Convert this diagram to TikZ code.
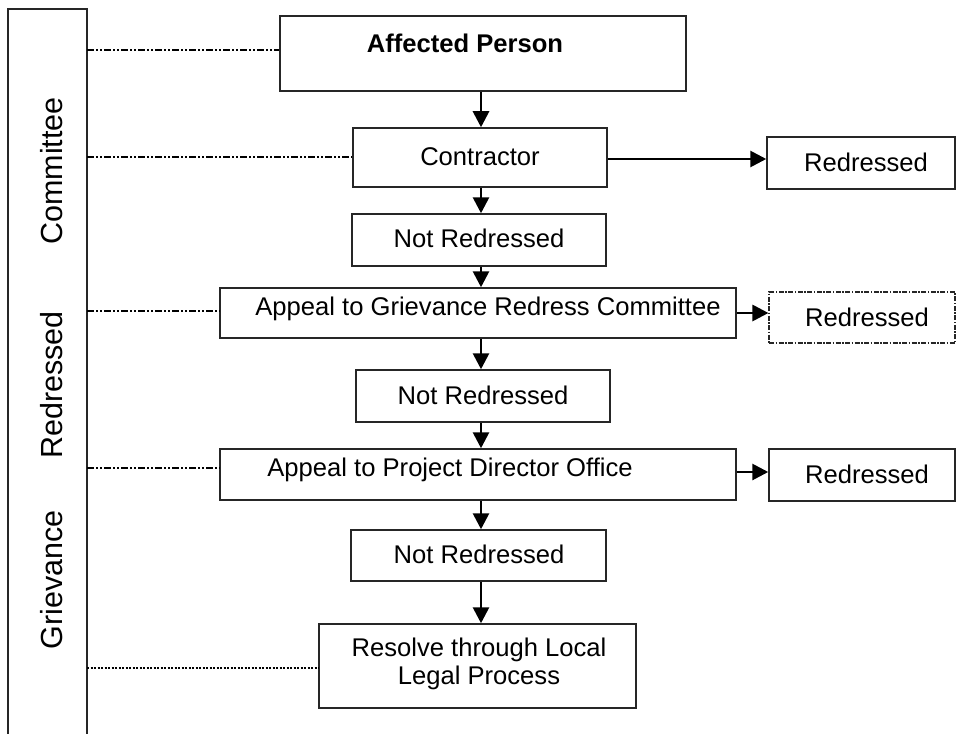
\documentclass[tikz,border=0pt]{standalone}
\usepackage{fontspec}
\setmainfont{Liberation Sans}
\usetikzlibrary{arrows.meta}
\tikzset{
  box/.style={draw=black!85, line width=1.5pt, inner sep=0pt},
  txt/.style={font=\fontsize{25.6}{28.5}\selectfont, inner sep=0pt, align=center},
  side/.style={font=\fontsize{30.5}{34}\selectfont, inner sep=0pt, rotate=90},
  flow/.style={line width=2.8pt, -{Triangle[length=16pt,width=16pt]}},
  link/.style={line width=2.4pt, dash pattern=on 7pt off 2pt on 2pt off 2pt on 2pt off 2pt},
  dotlink/.style={line width=2.4pt, dash pattern=on 2pt off 1.5pt},
}
\begin{document}
\begin{tikzpicture}[x=1pt,y=1pt]
\useasboundingbox (0,0) rectangle (957,-733);
% left bar
\draw[line width=1.5pt, black!85] (8,-740) -- (8,-9) coordinate (barTL) -- (87,-9) -- (87,-740);
\coordinate (barR) at (87,-9);
\node[side] (lc) at (52,-171) {Committee};
\node[side] (lr) at (52,-385) {Redressed};
\node[side] (lg) at (52,-580) {Grievance};

% boxes
\node[box, minimum width=406, minimum height=75] (aff) at (483,-53.5) {};
\node[txt, font=\fontsize{25.6}{30}\selectfont\bfseries] (afft) at (465,-43) {Affected Person};
\node[box, minimum width=254, minimum height=59] (con) at (480,-157.5) {};
\node[txt] (cont) at (480,-157) {Contractor};
\node[box, minimum width=188, minimum height=52] (red1) at (861,-163) {};
\node[txt] (red1t) at (866,-162) {Redressed};
\node[box, minimum width=254, minimum height=52] (nr1) at (479,-240) {};
\node[txt] (nr1t) at (479,-238) {Not Redressed};
\node[box, minimum width=516, minimum height=50] (grc) at (478,-313) {};
\node[txt] (grct) at (488,-309) {Appeal to Grievance Redress Committee};
\node[draw=black!85, line width=1.1pt, dash pattern=on 5pt off 1.5pt on 1.5pt off 1.5pt, inner sep=0pt, minimum width=186, minimum height=51] (red2) at (862,-317.5) {};
\node[txt] (red2t) at (867,-317) {Redressed};
\node[box, minimum width=254, minimum height=52] (nr2) at (483,-396) {};
\node[txt] (nr2t) at (483,-395) {Not Redressed};
\node[box, minimum width=516, minimum height=51] (pdo) at (478,-474.5) {};
\node[txt] (pdot) at (450,-470) {Appeal to Project Director Office};
\node[box, minimum width=186, minimum height=52] (red3) at (862,-475) {};
\node[txt] (red3t) at (867,-474) {Redressed};
\node[box, minimum width=255, minimum height=51] (nr3) at (478.5,-555.5) {};
\node[txt] (nr3t) at (479,-554) {Not Redressed};
\node[box, minimum width=317, minimum height=84] (res) at (477.5,-666) {};
\node[txt] (rest) at (479,-664) {Resolve through Local\\Legal Process};

% vertical flow
\draw[flow] (481,0 |- aff.south) -- (481,0 |- con.north);
\draw[flow] (481,0 |- con.south) -- (481,0 |- nr1.north);
\draw[flow] (481,0 |- nr1.south) -- (481,0 |- grc.north);
\draw[flow] (481,0 |- grc.south) -- (481,0 |- nr2.north);
\draw[flow] (481,0 |- nr2.south) -- (481,0 |- pdo.north);
\draw[flow] (481,0 |- pdo.south) -- (481,0 |- nr3.north);
\draw[flow] (481,0 |- nr3.south) -- (481,0 |- res.north);

% horizontal flow
\draw[flow] (con.east |- 0,-159) -- (red1.west |- 0,-159);
\draw[flow] (grc.east |- 0,-313) -- (red2.west |- 0,-313);
\draw[flow] (pdo.east |- 0,-472) -- (red3.west |- 0,-472);

% links to bar
\draw[link] (barR |- 0,-50) -- (aff.west |- 0,-50);
\draw[link] (barR |- 0,-157) -- (con.west |- 0,-157);
\draw[link] (barR |- 0,-311) -- (grc.west |- 0,-311);
\draw[link] (barR |- 0,-468) -- (pdo.west |- 0,-468);
\draw[dotlink] (barR |- 0,-668) -- (res.west |- 0,-668);
\end{tikzpicture}
\end{document}
